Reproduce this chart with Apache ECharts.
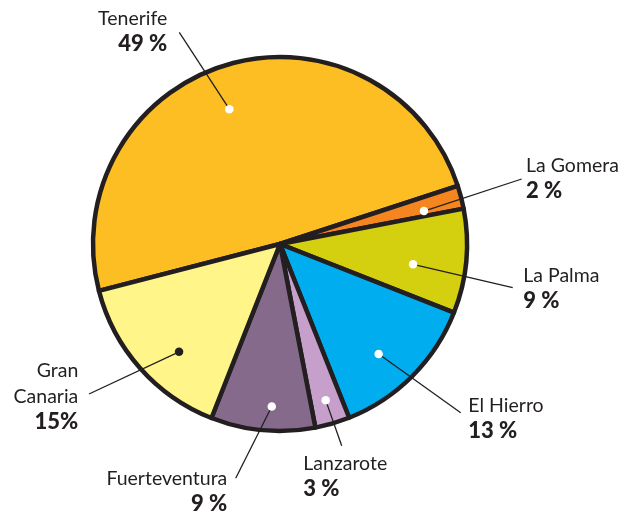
<!DOCTYPE html>
<html><head><meta charset="utf-8">
<script src="https://cdn.jsdelivr.net/npm/echarts/dist/echarts.min.js"></script>
<style>html,body{margin:0;padding:0;background:#fff}#c{width:634px;height:512px}</style>
</head><body><div id="c"></div>
<script>
// ---- data ----
const islands = ['Tenerife', 'La Gomera', 'La Palma', 'El Hierro', 'Lanzarote', 'Fuerteventura', 'Gran\nCanaria'];
const shares = [49, 2, 9, 13, 3, 9, 15];
const shareLabels = ['49 %', '2 %', '9 %', '13 %', '3 %', '9 %', '15%'];

// ---- styles / layout ----
const sliceColors = ['#FDBE24', '#F5851F', '#D4CF0F', '#00AEEF', '#C6A0CB', '#866A8B', '#FFF588'];
const dotColors = ['#fff', '#fff', '#fff', '#fff', '#fff', '#fff', '#231f20'];
const INK = '#231f20';
const CX = 280, CY = 244, R = 187, START = 194.5;
const dotRadius = [0.77, 0.79, 0.72, 0.79, 0.87, 0.87, 0.79];
const dotAngleShift = [4.3, -1.6, -3.4, -3.2, 0, 2.4, 5.4];
const labelPos = [[167.3, 5.5, 'right'], [526, 152.5, 'left'], [523.3, 263, 'left'], [468.3, 393, 'left'],
                  [303.3, 450.5, 'left'], [227.3, 465.7, 'right'], [78.3, 358, 'right']];
const lineEnds = [[179.3, 32.3], [521.7, 179], [512.7, 287.7], [460.7, 412.7], [341.7, 445.7], [235.7, 478.3], [89, 394]];

const total = shares.reduce((a, b) => a + b, 0);
function dotPoint(i) {
  let cum = 0;
  for (let j = 0; j < i; j++) cum += shares[j];
  const ang = (START - (cum + shares[i] / 2) / total * 360 + dotAngleShift[i]) * Math.PI / 180;
  const k = dotRadius[i];
  return [CX + R * k * Math.cos(ang), CY - R * k * Math.sin(ang)];
}

const chart = echarts.init(document.getElementById('c'), null, {renderer: 'canvas'});
const txt = {fontFamily: 'Lato', fontSize: 19.5, color: INK, lineHeight: 25.5};
const base = {
  type: 'pie', center: [CX, CY], radius: [0, R], startAngle: START, clockwise: true,
  avoidLabelOverlap: false, silent: true, emphasis: {disabled: true}
};
chart.setOption({
  animation: false,
  series: [
    Object.assign({}, base, {
      z: 2,
      data: shares.map((v, i) => ({value: v, name: islands[i], itemStyle: {color: sliceColors[i]}})),
      itemStyle: {borderColor: INK, borderWidth: 4.5, borderJoin: 'round'},
      label: {show: false},
      labelLine: {show: false}
    }),
    Object.assign({}, base, {
      z: 4,
      data: shares.map((v, i) => ({value: v, name: islands[i]})),
      itemStyle: {color: 'rgba(0,0,0,0)', borderWidth: 0},
      label: {
        show: true,
        position: 'outside',
        formatter: function (p) {
          const lines = islands[p.dataIndex].split('\n').map(s => '{n|' + s + '}');
          lines.push('{p|' + shareLabels[p.dataIndex] + '}');
          return lines.join('\n');
        },
        rich: {n: Object.assign({}, txt), p: Object.assign({}, txt, {fontWeight: 900, fontSize: 22})}
      },
      labelLine: {show: true, smooth: false, lineStyle: {color: INK, width: 1.3}},
      labelLayout: function (params) {
        const i = params.dataIndex;
        const lp = labelPos[i];
        return {
          x: lp[0], y: lp[1], align: lp[2], verticalAlign: 'top',
          labelLinePoints: [dotPoint(i), lineEnds[i]]
        };
      }
    }),
    Object.assign({}, base, {
      z: 6,
      data: shares.map((v, i) => ({
        value: v, name: islands[i],
        label: {formatter: '{d|}', rich: {d: {width: 8.5, height: 8.5, borderRadius: 4.25, backgroundColor: dotColors[i]}}}
      })),
      itemStyle: {color: 'rgba(0,0,0,0)', borderWidth: 0},
      label: {show: true, position: 'inside'},
      labelLine: {show: false},
      labelLayout: function (params) {
        const p = dotPoint(params.dataIndex);
        return {x: p[0], y: p[1], align: 'center', verticalAlign: 'middle'};
      }
    })
  ]
});
</script>
</body></html>
